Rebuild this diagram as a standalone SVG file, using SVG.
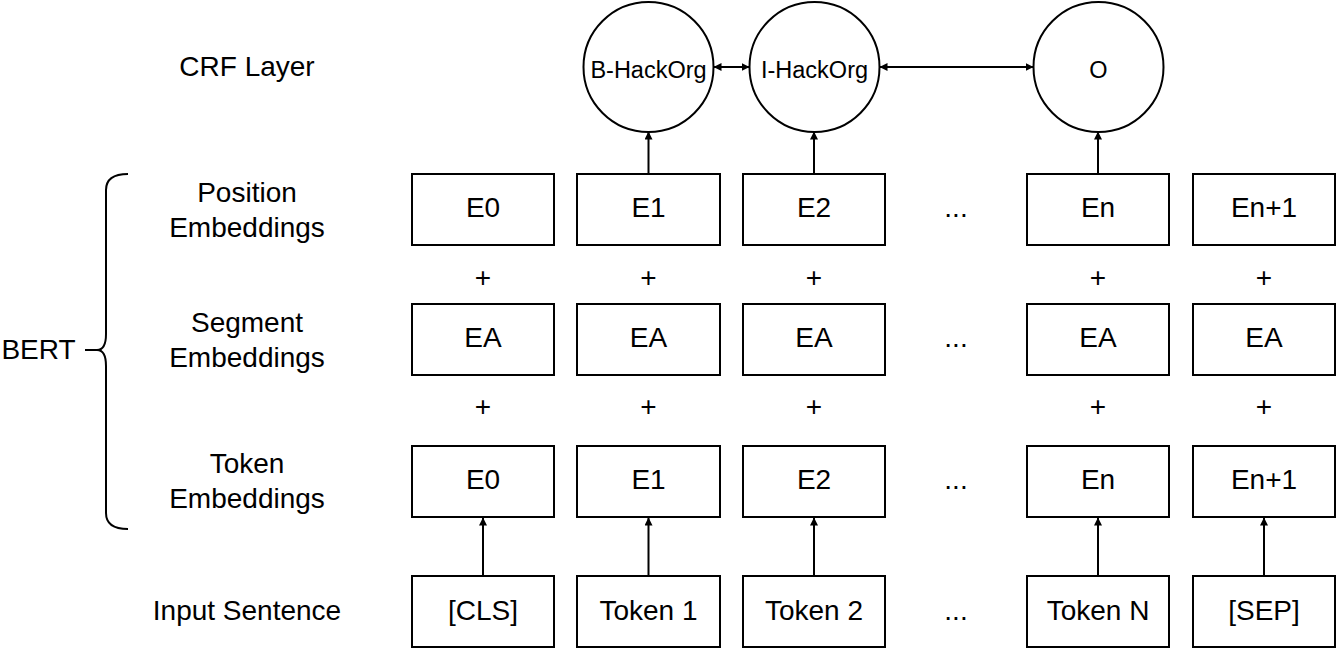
<svg xmlns="http://www.w3.org/2000/svg" width="1336" height="650" viewBox="0 0 1336 650">
<style>
text{font-family:"Liberation Sans",Arial,Helvetica,sans-serif;fill:#000;text-anchor:middle}
.t{font-size:28px}
.c{font-size:23.5px}
.box{fill:#fff;stroke:#000;stroke-width:2}
.circ{fill:#fff;stroke:#000;stroke-width:2}
.edge{fill:none;stroke:#000;stroke-width:2}
</style>
<defs>
<marker id="ah" viewBox="0 0 8 8" refX="7.5" refY="4" markerWidth="4" markerHeight="4" orient="auto-start-reverse" markerUnits="strokeWidth">
<path d="M0,0 L8,4 L0,8 z" fill="#000"/>
</marker>
</defs>
<rect width="1336" height="650" fill="#fff"/>

<g id="labels">
<text class="t" x="247" y="76">CRF Layer</text>
<text class="t" x="247" y="202">Position</text>
<text class="t" x="247" y="237">Embeddings</text>
<text class="t" x="247" y="332">Segment</text>
<text class="t" x="247" y="367">Embeddings</text>
<text class="t" x="247" y="473">Token</text>
<text class="t" x="247" y="508">Embeddings</text>
<text class="t" x="247" y="620">Input Sentence</text>
<text class="t" x="38.5" y="359">BERT</text>
</g>

<g id="bert-brace">
<path class="edge" d="M128,174 Q106,174 106,190 L106,334 Q106,350 97,350 Q106,350 106,366 L106,513 Q106,529 128,529"/>
<line class="edge" x1="85" y1="350" x2="97" y2="350"/>
</g>

<g id="connectors">
<line class="edge" x1="714" y1="67" x2="749" y2="67" marker-start="url(#ah)" marker-end="url(#ah)"/>
<line class="edge" x1="880" y1="67" x2="1033" y2="67" marker-start="url(#ah)" marker-end="url(#ah)"/>
<line class="edge" x1="648.5" y1="174" x2="648.5" y2="132" marker-end="url(#ah)"/>
<line class="edge" x1="814" y1="174" x2="814" y2="132" marker-end="url(#ah)"/>
<line class="edge" x1="1098" y1="174" x2="1098" y2="132" marker-end="url(#ah)"/>
<line class="edge" x1="483" y1="576" x2="483" y2="518" marker-end="url(#ah)"/>
<line class="edge" x1="648.5" y1="576" x2="648.5" y2="518" marker-end="url(#ah)"/>
<line class="edge" x1="814" y1="576" x2="814" y2="518" marker-end="url(#ah)"/>
<line class="edge" x1="1098" y1="576" x2="1098" y2="518" marker-end="url(#ah)"/>
<line class="edge" x1="1264" y1="576" x2="1264" y2="518" marker-end="url(#ah)"/>
</g>

<g id="crf-b"><circle class="circ" cx="648.5" cy="67" r="65"/><text class="c" x="648.5" y="78">B-HackOrg</text></g>
<g id="crf-i"><circle class="circ" cx="814.5" cy="67" r="65"/><text class="c" x="814.5" y="78">I-HackOrg</text></g>
<g id="crf-o"><circle class="circ" cx="1098.5" cy="67" r="65"/><text class="c" x="1098.5" y="78">O</text></g>

<g id="pos-0"><rect class="box" x="412" y="174" width="142" height="71"/><text class="t" x="483" y="217">E0</text></g>
<g id="pos-1"><rect class="box" x="577" y="174" width="143" height="71"/><text class="t" x="648.5" y="217">E1</text></g>
<g id="pos-2"><rect class="box" x="743" y="174" width="142" height="71"/><text class="t" x="814" y="217">E2</text></g>
<g id="pos-n"><rect class="box" x="1027" y="174" width="142" height="71"/><text class="t" x="1098" y="217">En</text></g>
<g id="pos-n1"><rect class="box" x="1193" y="174" width="142" height="71"/><text class="t" x="1264" y="217">En+1</text></g>

<g id="seg-0"><rect class="box" x="412" y="304" width="142" height="71"/><text class="t" x="483" y="347">EA</text></g>
<g id="seg-1"><rect class="box" x="577" y="304" width="143" height="71"/><text class="t" x="648.5" y="347">EA</text></g>
<g id="seg-2"><rect class="box" x="743" y="304" width="142" height="71"/><text class="t" x="814" y="347">EA</text></g>
<g id="seg-n"><rect class="box" x="1027" y="304" width="142" height="71"/><text class="t" x="1098" y="347">EA</text></g>
<g id="seg-n1"><rect class="box" x="1193" y="304" width="142" height="71"/><text class="t" x="1264" y="347">EA</text></g>

<g id="tok-0"><rect class="box" x="412" y="446" width="142" height="71"/><text class="t" x="483" y="489">E0</text></g>
<g id="tok-1"><rect class="box" x="577" y="446" width="143" height="71"/><text class="t" x="648.5" y="489">E1</text></g>
<g id="tok-2"><rect class="box" x="743" y="446" width="142" height="71"/><text class="t" x="814" y="489">E2</text></g>
<g id="tok-n"><rect class="box" x="1027" y="446" width="142" height="71"/><text class="t" x="1098" y="489">En</text></g>
<g id="tok-n1"><rect class="box" x="1193" y="446" width="142" height="71"/><text class="t" x="1264" y="489">En+1</text></g>

<g id="in-0"><rect class="box" x="412" y="576" width="142" height="71"/><text class="t" x="483" y="620">[CLS]</text></g>
<g id="in-1"><rect class="box" x="577" y="576" width="143" height="71"/><text class="t" x="648.5" y="620">Token 1</text></g>
<g id="in-2"><rect class="box" x="743" y="576" width="142" height="71"/><text class="t" x="814" y="620">Token 2</text></g>
<g id="in-n"><rect class="box" x="1027" y="576" width="142" height="71"/><text class="t" x="1098" y="620">Token N</text></g>
<g id="in-n1"><rect class="box" x="1193" y="576" width="142" height="71"/><text class="t" x="1264" y="620">[SEP]</text></g>

<g id="plus">
<text class="t" x="483" y="287">+</text><text class="t" x="648.5" y="287">+</text><text class="t" x="814" y="287">+</text><text class="t" x="1098" y="287">+</text><text class="t" x="1264" y="287">+</text>
<text class="t" x="483" y="416">+</text><text class="t" x="648.5" y="416">+</text><text class="t" x="814" y="416">+</text><text class="t" x="1098" y="416">+</text><text class="t" x="1264" y="416">+</text>
</g>

<g id="ellipsis">
<text class="t" x="956" y="217">...</text>
<text class="t" x="956" y="347">...</text>
<text class="t" x="956" y="489">...</text>
<text class="t" x="956" y="620">...</text>
</g>
</svg>
